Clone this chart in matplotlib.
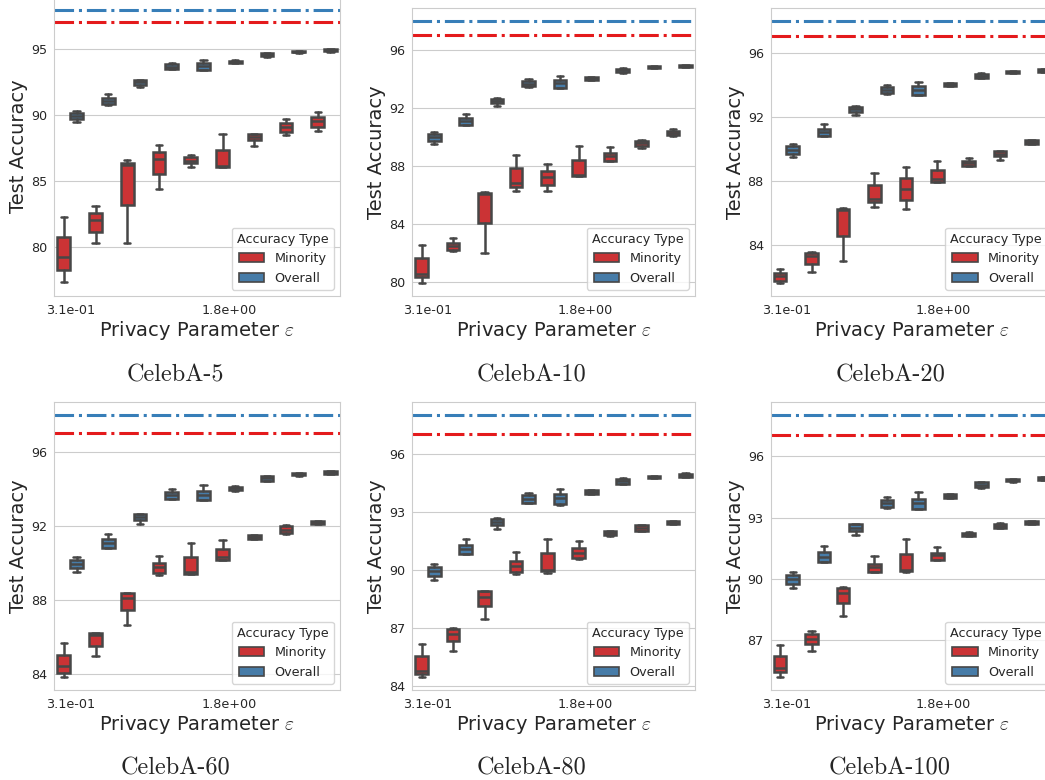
import numpy as np
import matplotlib
matplotlib.use("Agg")
import matplotlib.pyplot as plt
from matplotlib.patches import Patch
from matplotlib.ticker import MultipleLocator
import seaborn as sns

sns.set_style("whitegrid")
plt.rcParams['font.family'] = ['DejaVu Sans']
plt.rcParams['mathtext.fontset'] = 'cm'

# privacy budgets (x categories); only every 5th one is labelled
eps = [0.31, 0.44, 0.63, 0.89, 1.27, 1.8, 2.56, 3.63, 5.16]
datasets = ["CelebA-5", "CelebA-10", "CelebA-20", "CelebA-60", "CelebA-80", "CelebA-100"]

# full (non-private) accuracy, dash-dot reference lines
overall_full = 98.01
minority_full = 97.06

# overall accuracy, 5 runs per epsilon (same for every dataset)
overall = [
    [89.52, 89.72, 89.98, 90.18, 90.35],
    [90.82, 90.84, 91.08, 91.29, 91.61],
    [92.12, 92.32, 92.50, 92.66, 92.68],
    [93.48, 93.50, 93.70, 93.88, 94.00],
    [93.40, 93.42, 93.72, 93.93, 94.23],
    [93.94, 93.96, 94.05, 94.13, 94.16],
    [94.45, 94.48, 94.60, 94.73, 94.75],
    [94.75, 94.77, 94.82, 94.88, 94.90],
    [94.83, 94.85, 94.92, 94.99, 95.01],
]

# minority accuracy, 5 runs per epsilon
minority_5 = [
    [77.34, 78.29, 79.27, 80.80, 82.26],
    [80.35, 81.16, 82.06, 82.59, 83.12],
    [80.35, 83.22, 86.21, 86.38, 86.63],
    [84.45, 85.58, 86.71, 87.24, 87.76],
    [86.06, 86.36, 86.53, 86.83, 86.96],
    [86.06, 86.08, 86.13, 87.34, 88.57],
    [87.71, 88.14, 88.34, 88.57, 88.62],
    [88.54, 88.77, 89.12, 89.42, 89.70],
    [88.80, 89.10, 89.60, 89.85, 90.23],
]
minority_10 = [
    [79.93, 80.32, 80.57, 81.66, 82.53],
    [82.11, 82.23, 82.50, 82.69, 83.06],
    [82.00, 84.07, 86.10, 86.16, 86.18],
    [86.25, 86.55, 86.85, 87.84, 88.76],
    [86.25, 86.69, 87.22, 87.66, 88.11],
    [87.28, 87.30, 87.36, 88.44, 89.40],
    [88.32, 88.34, 88.69, 88.87, 89.29],
    [89.22, 89.40, 89.56, 89.75, 89.80],
    [90.08, 90.11, 90.25, 90.41, 90.55],
]
minority_20 = [
    [81.65, 81.76, 82.09, 82.24, 82.49],
    [82.32, 82.84, 83.36, 83.53, 83.57],
    [83.05, 84.57, 86.23, 86.29, 86.31],
    [86.40, 86.69, 86.89, 87.79, 88.52],
    [86.27, 86.85, 87.52, 88.20, 88.91],
    [87.94, 87.95, 88.16, 88.68, 89.24],
    [88.93, 88.97, 89.14, 89.28, 89.47],
    [89.31, 89.56, 89.68, 89.87, 89.88],
    [90.33, 90.35, 90.47, 90.55, 90.57],
]
minority_60 = [
    [83.84, 84.05, 84.41, 85.01, 85.68],
    [84.95, 85.53, 86.09, 86.20, 86.22],
    [86.63, 87.44, 88.10, 88.38, 88.40],
    [89.35, 89.48, 89.82, 90.02, 90.40],
    [89.43, 89.44, 89.50, 90.36, 91.10],
    [90.18, 90.19, 90.36, 90.77, 91.26],
    [91.32, 91.33, 91.42, 91.51, 91.53],
    [91.59, 91.66, 91.82, 92.04, 92.06],
    [92.12, 92.13, 92.21, 92.29, 92.30],
]
minority_80 = [
    [84.49, 84.64, 84.81, 85.55, 86.21],
    [85.85, 86.33, 86.70, 86.96, 87.00],
    [87.51, 88.16, 88.61, 88.92, 88.94],
    [89.81, 89.93, 90.23, 90.48, 90.95],
    [89.87, 89.95, 90.02, 90.88, 91.62],
    [90.61, 90.62, 90.88, 91.14, 91.52],
    [91.80, 91.81, 91.91, 92.03, 92.05],
    [92.04, 92.05, 92.20, 92.34, 92.36],
    [92.40, 92.41, 92.47, 92.53, 92.54],
]
minority_100 = [
    [85.18, 85.40, 85.62, 86.21, 86.74],
    [86.44, 86.78, 87.06, 87.31, 87.44],
    [88.17, 88.79, 89.30, 89.54, 89.61],
    [90.32, 90.33, 90.58, 90.74, 91.11],
    [90.35, 90.36, 90.41, 91.23, 91.93],
    [90.92, 90.93, 91.16, 91.28, 91.57],
    [92.10, 92.11, 92.18, 92.26, 92.28],
    [92.48, 92.49, 92.58, 92.68, 92.75],
    [92.69, 92.70, 92.75, 92.81, 92.83],
]
minority_all = [minority_5, minority_10, minority_20, minority_60, minority_80, minority_100]
ytick_step = [5, 4, 4, 4, 3, 3]

# colours (seaborn Set1, boxes desaturated like sns.boxplot does)
line_red, line_blue = sns.color_palette("Set1", 2)
box_red, box_blue = sns.color_palette("Set1", 2, desat=0.75)
gray = "#474747"

# axes rectangles in pixels: left, top, right, bottom
rects = [
    (54.3, -4, 340, 296), (412.3, 8, 695, 296), (770.7, 8, 1053.5, 296),
    (54.3, 402.3, 340, 690), (412.3, 402.3, 695, 690), (770.7, 402.3, 1053.5, 690),
]
W, H = 1045, 780
fig = plt.figure(figsize=(W / 100, H / 100), dpi=100)


def draw_boxes(ax, data, pos, color):
    lw = 1.8
    ax.boxplot(data, positions=pos, widths=0.4, patch_artist=True, whis=(0, 100),
               showfliers=False, manage_ticks=False,
               boxprops=dict(facecolor=color, edgecolor=gray, linewidth=lw),
               medianprops=dict(color=gray, linewidth=lw),
               whiskerprops=dict(color=gray, linewidth=lw),
               capprops=dict(color=gray, linewidth=lw))


x = np.arange(len(eps))
for i, name in enumerate(datasets):
    l, t, r, b = rects[i]
    ax = fig.add_axes([l / W, 1 - b / H, (r - l) / W, (b - t) / H])
    draw_boxes(ax, minority_all[i], x - 0.2, box_red)
    draw_boxes(ax, overall, x + 0.2, box_blue)
    ax.axhline(overall_full, color=line_blue, ls='-.', lw=2.2)
    ax.axhline(minority_full, color=line_red, ls='-.', lw=2.2)
    ax.set_xlim(-0.5, len(eps) - 0.5)
    ax.grid(False, axis='x')
    ax.set_xticks([0, 5])
    ax.set_xticklabels(["%.1e" % eps[0], "%.1e" % eps[5]])
    ax.yaxis.set_major_locator(MultipleLocator(ytick_step[i]))
    ax.tick_params(labelsize=9.2, pad=2)
    ax.tick_params(axis='y', pad=1.5)
    ax.set_xlabel(r"Privacy Parameter $\varepsilon$", fontsize=14, labelpad=2)
    ax.set_ylabel("Test Accuracy", fontsize=14, labelpad=2)
    handles = [Patch(facecolor=box_red, edgecolor=gray, linewidth=1.2, label="Minority"),
               Patch(facecolor=box_blue, edgecolor=gray, linewidth=1.2, label="Overall")]
    ax.legend(handles=handles, title="Accuracy Type", loc="lower right",
              fontsize=9.2, title_fontsize=9.2)
    cx = (l + r) / 2 - 22
    cy = 375 if i < 3 else 768
    fig.text(cx / W, 1 - cy / H, name, family='cmr10', fontsize=17.5,
             ha='center', va='center')

fig.savefig("out.png", dpi=100)
